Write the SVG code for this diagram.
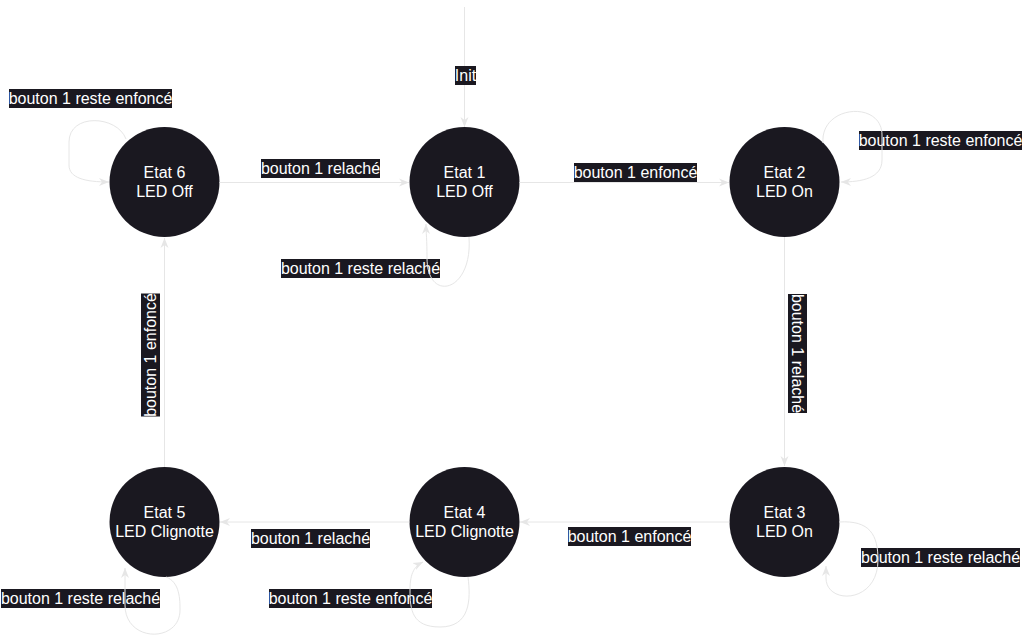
<svg xmlns="http://www.w3.org/2000/svg" width="1022" height="638" viewBox="0 0 1022 638">
<defs>
<style>
.node{fill:#1a1820}
.nt{font-family:"Liberation Sans",Arial,sans-serif;font-size:16px;fill:#ffffff;text-anchor:middle}
.lb{fill:#1a1820}
.lt{font-family:"Liberation Sans",Arial,sans-serif;font-size:16px;fill:#ffffff;text-anchor:middle}
.edge{fill:none;stroke:#e6e6e6;stroke-width:1}
</style>
<marker id="arr" markerUnits="userSpaceOnUse" markerWidth="12" markerHeight="10" refX="10" refY="5" orient="auto">
<path d="M0,1 L10,5 L0,9 L3,5 z" fill="#e6e6e6"/>
</marker>
</defs>
<rect width="1022" height="638" fill="#ffffff"/>
<g id="nodes">
<g id="etat6"><circle class="node" cx="164.5" cy="182" r="55"/><text class="nt" x="164.5" y="178">Etat 6</text><text class="nt" x="164.5" y="197">LED Off</text></g>
<g id="etat1"><circle class="node" cx="464.5" cy="182" r="55"/><text class="nt" x="464.5" y="178">Etat 1</text><text class="nt" x="464.5" y="197">LED Off</text></g>
<g id="etat2"><circle class="node" cx="784.5" cy="182" r="55"/><text class="nt" x="784.5" y="178">Etat 2</text><text class="nt" x="784.5" y="197">LED On</text></g>
<g id="etat3"><circle class="node" cx="784.5" cy="522" r="55"/><text class="nt" x="784.5" y="518">Etat 3</text><text class="nt" x="784.5" y="537">LED On</text></g>
<g id="etat4"><circle class="node" cx="464.5" cy="522" r="55"/><text class="nt" x="464.5" y="518">Etat 4</text><text class="nt" x="464.5" y="537">LED Clignotte</text></g>
<g id="etat5"><circle class="node" cx="164.5" cy="522" r="55"/><text class="nt" x="164.5" y="518">Etat 5</text><text class="nt" x="164.5" y="537">LED Clignotte</text></g>
</g>
<g id="labels">
<rect class="lb" x="9" y="89" width="163" height="19"/><text class="lt" x="90.5" y="104">bouton 1 reste enfoncé</text>
<rect class="lb" x="261" y="159" width="119" height="19"/><text class="lt" x="320.5" y="174">bouton 1 relaché</text>
<rect class="lb" x="574" y="163" width="123" height="19"/><text class="lt" x="635.5" y="178">bouton 1 enfoncé</text>
<rect class="lb" x="859" y="131" width="163" height="19"/><text class="lt" x="940.5" y="146">bouton 1 reste enfoncé</text>
<rect class="lb" x="281" y="259" width="159" height="19"/><text class="lt" x="360.5" y="274">bouton 1 reste relaché</text>
<g transform="translate(797.5,353.5) rotate(90)"><rect class="lb" x="-59.5" y="-9.5" width="119" height="19"/><text class="lt" x="0" y="5.5">bouton 1 relaché</text></g>
<g transform="translate(150.5,355) rotate(-90)"><rect class="lb" x="-61.5" y="-9.5" width="123" height="19"/><text class="lt" x="0" y="5.5">bouton 1 enfoncé</text></g>
<rect class="lb" x="568" y="527" width="123" height="19"/><text class="lt" x="629.5" y="542">bouton 1 enfoncé</text>
<rect class="lb" x="861" y="548" width="159" height="19"/><text class="lt" x="940.5" y="563">bouton 1 reste relaché</text>
<rect class="lb" x="251" y="529" width="119" height="19"/><text class="lt" x="310.5" y="544">bouton 1 relaché</text>
<rect class="lb" x="269" y="589" width="163" height="19"/><text class="lt" x="350.5" y="604">bouton 1 reste enfoncé</text>
<rect class="lb" x="1" y="589" width="159" height="19"/><text class="lt" x="80.5" y="604">bouton 1 reste relaché</text>
</g>
<g id="connectors">
<path class="edge" marker-end="url(#arr)" d="M464.5 7 L464.5 127"/>
<path class="edge" marker-end="url(#arr)" d="M219.5 182.5 L409 182.5"/>
<path class="edge" marker-end="url(#arr)" d="M519.5 182.5 L729 182.5"/>
<path class="edge" marker-end="url(#arr)" d="M784.5 237 L784.5 466"/>
<path class="edge" marker-end="url(#arr)" d="M729.5 522 L520 522"/>
<path class="edge" marker-end="url(#arr)" d="M409.5 522 L220 522"/>
<path class="edge" marker-end="url(#arr)" d="M164.5 467 L164.5 238"/>
<path class="edge" marker-end="url(#arr)" d="M126 139 C 117 115, 69 113, 69 142 L 69 165 C 69 178, 85 182, 109 182"/>
<path class="edge" marker-end="url(#arr)" d="M823 143 C 820 105, 882 100, 882 135 L 882 160 C 882 178, 862 182, 841 182"/>
<path class="edge" marker-end="url(#arr)" d="M469 237 C 473 293, 427 303, 427 258 C 427 240, 426 232, 426 224"/>
<path class="edge" marker-end="url(#arr)" d="M839 522 C 870 520, 878 535, 878 560 C 878 604, 826 605, 826 578 L 826 566"/>
<path class="edge" marker-end="url(#arr)" d="M468 577 C 471 600, 470 627, 440 627 C 412 627, 410 610, 410 590 C 410 572, 415 566, 423 562"/>
<path class="edge" marker-end="url(#arr)" d="M166 577 C 180 582, 180 600, 180 610 C 180 643, 125 643, 125 605 L 125 568"/>
</g>
<g id="init-label">
<rect class="lb" x="455" y="66" width="21" height="19"/><text class="lt" x="465.5" y="81">Init</text>
</g>
</svg>
